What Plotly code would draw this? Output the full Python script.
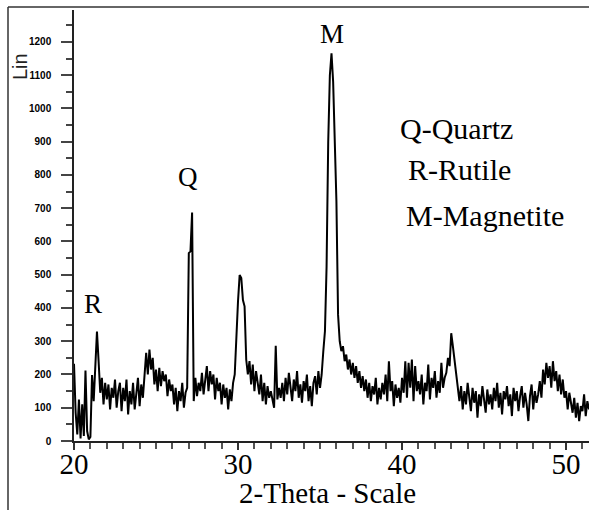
import plotly.graph_objects as go

# ---- data (2-theta, degrees; intensity, counts) ----
theta_start = 20.0
theta_step = 0.1
intensity = [
    # 20.0 - 20.9
    232, 85, 20, 125, 8, 110, 15, 212, 30, 5,
    # 21.0 - 21.9
    12, 198, 120, 230, 329, 240, 145, 190, 110, 175,
    # 22.0 - 22.9
    125, 170, 95, 160, 130, 185, 100, 150, 175, 90,
    # 23.0 - 23.9
    160, 120, 185, 80, 150, 110, 175, 95, 140, 190,
    # 24.0 - 24.9
    105, 170, 130, 210, 265, 200, 275, 215, 250, 170,
    # 25.0 - 25.9
    215, 150, 220, 165, 210, 180, 200, 135, 185, 150,
    # 26.0 - 26.9
    170, 110, 160, 90, 150, 120, 175, 100, 145, 160,
    # 27.0 - 27.9
    565, 570, 687, 120, 190, 135, 175, 150, 205, 140,
    # 28.0 - 28.9
    185, 225, 150, 210, 170, 200, 125, 190, 150, 175,
    # 29.0 - 29.9
    110, 170, 130, 160, 95, 155, 120, 175, 200, 330,
    # 30.0 - 30.9
    420, 499, 490, 424, 405, 245, 200, 240, 170, 230,
    # 31.0 - 31.9
    150, 210, 180, 140, 200, 120, 175, 110, 165, 130,
    # 32.0 - 32.9
    150, 125, 100, 286, 125, 160, 130, 175, 120, 190,
    # 33.0 - 33.9
    140, 205, 160, 120, 185, 150, 210, 130, 170, 115,
    # 34.0 - 34.9
    180, 150, 200, 120, 165, 105, 175, 195, 140, 210,
    # 35.0 - 35.9
    160, 200, 270, 330, 525, 900, 1100, 1166, 1080, 930,
    # 36.0 - 36.9
    720, 380, 300, 270, 285, 240, 260, 215, 245, 200,
    # 37.0 - 37.9
    235, 190, 225, 175, 210, 160, 195, 150, 185, 130,
    # 38.0 - 38.9
    175, 120, 165, 140, 190, 110, 160, 125, 175, 140,
    # 39.0 - 39.9
    200, 120, 240, 150, 180, 105, 170, 130, 160, 115,
    # 40.0 - 40.9
    190, 145, 240, 130, 235, 160, 245, 120, 225, 150,
    # 41.0 - 41.9
    180, 140, 200, 110, 175, 150, 230, 125, 190, 160,
    # 42.0 - 42.9
    210, 130, 180, 145, 235, 160, 190, 205, 250, 225,
    # 43.0 - 43.9
    324, 285, 240, 195, 150, 120, 165, 95, 150, 110,
    # 44.0 - 44.9
    175, 130, 90, 160, 115, 150, 70, 140, 105, 165,
    # 45.0 - 45.9
    120, 85, 155, 110, 140, 95, 160, 120, 175, 100,
    # 46.0 - 46.9
    145, 80, 150, 125, 165, 105, 140, 75, 160, 120,
    # 47.0 - 47.9
    150, 90, 135, 165, 100, 145, 110, 60, 135, 170,
    # 48.0 - 48.9
    95, 150, 115, 140, 180, 130, 215, 170, 235, 190,
    # 49.0 - 49.9
    225, 160, 240, 180, 210, 150, 200, 140, 185, 130,
    # 50.0 - 50.9
    150, 95, 145, 120, 85, 130, 70, 115, 60, 105,
    # 51.0 - 51.4
    90, 140, 75, 120, 95,
]
two_theta = [round(theta_start + i * theta_step, 2) for i in range(len(intensity))]

peak_labels = ["R", "Q", "M"]
peak_label_x = [21.16, 26.95, 35.7]
peak_label_y = [412, 794, 1224]

legend_lines = ["Q-Quartz", "R-Rutile", "M-Magnetite"]
legend_x = [43.3, 43.5, 45.06]
legend_y = [941, 815, 677]

x_title = "2-Theta - Scale"
y_title = "Lin"

SERIF = "Times New Roman, Liberation Serif, serif"
SANS = "Arial, Liberation Sans, sans-serif"

fig = go.Figure()
fig.add_trace(go.Scatter(
    x=two_theta, y=intensity, mode="lines",
    line=dict(color="#000000", width=2),
    hoverinfo="skip", showlegend=False,
))

annotations = []
for t, x, y in zip(peak_labels, peak_label_x, peak_label_y):
    annotations.append(dict(x=x, y=y, xref="x", yref="y", text=t, showarrow=False,
                            font=dict(family=SERIF, size=27, color="#000"),
                            xanchor="center", yanchor="middle"))
for t, x, y in zip(legend_lines, legend_x, legend_y):
    annotations.append(dict(x=x, y=y, xref="x", yref="y", text=t, showarrow=False,
                            font=dict(family=SERIF, size=30, color="#000"),
                            xanchor="center", yanchor="middle"))
annotations.append(dict(x=(327 - 74) / 515, y=(441 - 493) / 431, xref="paper", yref="paper",
                        text=x_title, showarrow=False,
                        font=dict(family=SERIF, size=29, color="#000"),
                        xanchor="center", yanchor="middle"))
annotations.append(dict(x=(20 - 74) / 515, y=(441 - 67) / 431, xref="paper", yref="paper",
                        text=y_title, showarrow=False, textangle=-90,
                        font=dict(family=SANS, size=20, color="#222"),
                        xanchor="center", yanchor="middle"))

shapes = [
    dict(type="line", xref="paper", yref="paper", x0=(8 - 74) / 515, x1=(600 - 74) / 515,
         y0=(441 - 7) / 431, y1=(441 - 7) / 431, line=dict(color="#333", width=1.5)),
    dict(type="line", xref="paper", yref="paper", x0=(8 - 74) / 515, x1=(8 - 74) / 515,
         y0=(441 - 7) / 431, y1=(441 - 520) / 431, line=dict(color="#333", width=1.5)),
]

fig.update_layout(
    width=589, height=510,
    margin=dict(l=74, r=0, t=10, b=69),
    paper_bgcolor="white", plot_bgcolor="white",
    annotations=annotations, shapes=shapes,
    xaxis=dict(
        range=[20, 51.4], showgrid=False, zeroline=False,
        showline=True, linecolor="#222", linewidth=1.5,
        ticks="outside", ticklen=7, tickwidth=1.5, tickcolor="#333",
        tick0=20, dtick=10,
        minor=dict(ticks="outside", ticklen=6, tickwidth=1.5, tickcolor="#555", dtick=1),
        tickfont=dict(family=SERIF, size=29, color="#000"),
        ticklabelstandoff=-11,
    ),
    yaxis=dict(
        range=[0, 1296], showgrid=False, zeroline=False,
        showline=True, linecolor="#222", linewidth=1.5,
        ticks="outside", ticklen=11, tickwidth=1.5, tickcolor="#444",
        tick0=0, dtick=100,
        minor=dict(ticks="outside", ticklen=6, tickwidth=1.5, tickcolor="#444", dtick=50),
        tickfont=dict(family=SANS, size=10, color="#000", weight="bold"),
        ticklabelstandoff=8,
    ),
)

fig.write_html("out.html", config={"displayModeBar": False},
               post_script="document.body.style.margin='0px';document.body.style.overflow='hidden';")
